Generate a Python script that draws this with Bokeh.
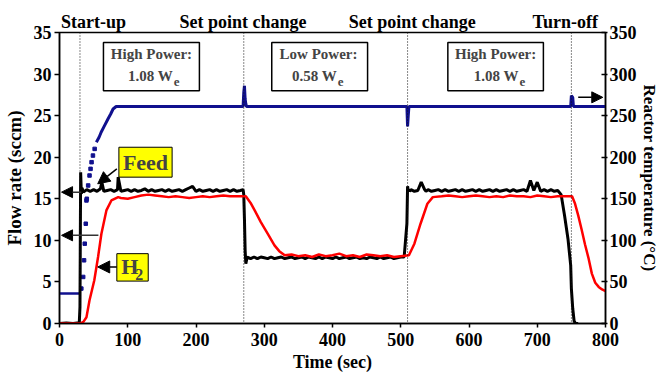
from bokeh.plotting import figure
from bokeh.models import Range1d, LinearAxis, Span, Label, BoxAnnotation, Arrow, NormalHead, FixedTicker
from bokeh.embed import file_html
from bokeh.resources import INLINE

# ---------------- data ----------------
x_ticks = [0, 100, 200, 300, 400, 500, 600, 700, 800]
flow_ticks = [0, 5, 10, 15, 20, 25, 30, 35]
temp_ticks = [0, 50, 100, 150, 200, 250, 300, 350]
event_times = [30, 270, 510, 750]
event_names = ["Start-up", "Set point change", "Set point change", "Turn-off"]
event_label_x = [50, 269, 517, 741]

# Reactor temperature (deg C), right axis
temp_start_t = [0, 31]
temp_start_c = [36, 36]
temp_rise_t = [32, 34.7, 36, 37, 38.5, 39.5, 40, 42, 44, 45.5, 47, 49, 51.5]
temp_rise_c = [42, 56, 76, 96, 120, 148, 150, 166, 178, 186, 194, 202, 210]
temp_plat_t = [54, 58, 61, 66, 71, 75, 78.5, 83, 269, 270, 271, 272, 273, 274, 509, 510, 511, 512,
               749, 750, 752, 753, 800]
temp_plat_c = [218, 224, 230, 238, 246, 252, 258, 261, 261, 278, 286, 270, 264, 261, 261, 237, 250, 261,
               261, 274, 272, 261, 261]

# Feed flow rate (sccm)
feed_t = [0, 10, 20, 29, 30, 31, 32, 33, 35, 40, 45, 50, 55, 60, 62, 65, 70, 75, 80, 85, 86, 90, 95,
          100, 105, 110, 115, 120, 125, 130, 135, 140, 145, 150, 155, 160, 165, 170, 175, 180, 185,
          190, 195, 200, 205, 210, 215, 220, 225, 230, 235, 240, 245, 250, 255, 260, 265, 269,
          270, 271, 272, 273, 275, 280, 285, 290, 295, 300, 305, 310, 315, 320, 325, 330, 335, 340,
          345, 350, 355, 360, 365, 370, 375, 380, 385, 390, 395, 400, 405, 410, 415, 420, 425, 430,
          435, 440, 445, 450, 455, 460, 465, 470, 475, 480, 485, 490, 495, 500, 505, 509,
          510, 511, 512, 513, 515, 520, 525, 530, 535, 537, 540, 545, 550, 555, 560, 565, 570, 575,
          580, 585, 590, 595, 600, 605, 610, 615, 620, 625, 630, 635, 640, 645, 650, 655, 660, 665,
          670, 675, 680, 685, 690, 695, 700, 705, 710, 715, 718, 720, 725, 730, 735, 740, 745, 749,
          750, 752, 754, 756, 758, 760, 762, 765, 780, 800]
feed_v = [0.0, 0.05, 0.0, 0.1, 2.0, 18.2, 15.6, 16.3, 15.8, 16.1, 15.9, 16.1, 15.9, 16.2, 17.0, 15.9,
          16.0, 16.1, 15.9, 16.1, 17.6, 15.9, 16.0,
          16.1, 15.9, 16.1, 15.9, 16.0, 16.2, 15.9, 16.1, 15.9, 16.0, 16.1, 15.9, 16.1, 15.9, 16.0,
          16.1, 15.9, 16.1, 16.3, 16.5, 15.9, 16.1, 15.9, 16.0, 16.1, 15.9, 16.1, 15.9, 16.0, 16.1,
          15.9, 16.1, 15.9, 16.0, 16.1,
          15.5, 12.5, 8.8, 7.2, 8.0, 7.8, 8.0, 7.8, 8.0, 7.9, 7.8, 8.0, 7.8, 7.9, 8.0, 7.8, 7.9, 8.0,
          7.8, 7.9, 8.0, 7.8, 8.0, 7.9, 7.8, 8.0, 7.8, 8.0, 7.9, 7.8, 8.0, 7.8, 7.9, 8.0, 7.8, 7.9,
          8.0, 7.8, 7.9, 7.8, 8.0, 7.9, 7.8, 8.0, 7.8, 7.9, 8.0, 7.8, 7.9, 8.0,
          8.0, 12.0, 16.5, 15.9, 16.1, 15.9, 16.1, 15.9, 16.0, 17.0, 16.1, 15.9, 16.1, 15.9, 16.0,
          16.1, 15.9, 16.1, 15.9, 16.0, 16.1, 15.9, 16.1, 15.9, 16.0, 16.1, 15.9, 16.1, 15.9, 16.0,
          16.1, 15.9, 16.1, 15.9, 16.0, 16.1, 15.9, 16.1, 15.9, 16.0, 16.1, 15.9, 17.2, 16.0, 17.0,
          15.9, 16.1, 15.9, 16.0, 16.1, 15.9, 16.0,
          15.5, 13.0, 10.2, 7.0, 4.2, 1.8, 0.3, 0.0, 0.0, 0.0]

# H2 flow rate (sccm)
h2_t = [0, 30, 35, 39.5, 44, 51, 56.5, 61.4, 68.7, 76, 86, 90, 100, 110, 120, 130, 140, 150, 160,
        170, 180, 190, 200, 210, 220, 230, 240, 250, 260, 273, 280, 286, 295, 305, 315, 322, 330,
        340, 350, 360, 370, 380, 390, 400, 410, 420, 430, 440, 450, 460, 470, 480, 490, 500, 512,
        520, 529, 539, 547, 560, 570, 580, 590, 600, 610, 620, 630, 640, 650, 660, 670, 680, 690,
        700, 710, 720, 730, 740, 751, 755, 760, 765, 770, 775, 780, 785, 790, 795, 800]
h2_v = [0.0, 0.0, 0.2, 0.75, 2.8, 5.2, 8.0, 10.8, 13.6, 14.8, 15.2, 15.1, 15.0, 15.2, 15.4, 15.5,
        15.4, 15.3, 15.2, 15.3, 15.2, 15.1, 15.2, 15.3, 15.2, 15.3, 15.4, 15.3, 15.3, 15.3, 14.5,
        13.6, 12.2, 10.8, 9.4, 8.7, 8.2, 8.3, 8.1, 8.2, 8.0, 8.3, 8.1, 8.2, 8.4, 8.1, 8.2, 8.0,
        8.3, 8.2, 8.1, 8.2, 8.0, 8.1, 8.2, 9.6, 12.0, 14.4, 15.2, 15.3, 15.4, 15.3, 15.2, 15.3,
        15.4, 15.3, 15.2, 15.3, 15.2, 15.4, 15.3, 15.3, 15.2, 15.4, 15.3, 15.2, 15.3, 15.3, 15.3,
        14.5, 13.0, 11.3, 9.5, 7.9, 6.0, 4.9, 4.4, 4.1, 3.9]

# ---------------- figure ----------------
FONT = "Liberation Serif"
BLUE = "#10108e"

p = figure(width=661, height=378, x_range=Range1d(0, 800), y_range=Range1d(0, 35),
           output_backend="svg", toolbar_location=None,
           min_border_left=58, min_border_right=56, min_border_top=32, min_border_bottom=55)
p.extra_y_ranges = {"temp": Range1d(0, 350)}
p.grid.visible = False
p.outline_line_color = "black"
p.outline_line_width = 1.5
p.background_fill_color = "white"
p.border_fill_color = "white"

def style_axis(ax, tin, tout):
    ax.axis_line_width = 1.5
    ax.major_tick_line_width = 1.5
    ax.major_tick_in = tin
    ax.major_tick_out = tout
    ax.minor_tick_line_color = None
    ax.major_label_text_font = FONT
    ax.major_label_text_font_style = "bold"
    ax.major_label_text_font_size = "18px"
    ax.major_label_text_color = "black"
    ax.axis_label_text_font = FONT
    ax.axis_label_text_font_style = "bold"
    ax.axis_label_text_font_size = "18px"
    ax.axis_label_text_color = "black"

p.xaxis.ticker = FixedTicker(ticks=x_ticks)
p.xaxis.axis_label = "Time (sec)"
style_axis(p.xaxis[0], 0, 4)
p.xaxis.major_label_standoff = 5
p.xaxis.axis_label_standoff = 3

p.yaxis.ticker = FixedTicker(ticks=flow_ticks)
p.yaxis.axis_label = "Flow rate (sccm)"
style_axis(p.yaxis[0], 0, 5)
p.yaxis.major_label_standoff = 3
p.yaxis.axis_label_standoff = 6
p.yaxis.axis_label_text_font_size = "19px"

rax = LinearAxis(y_range_name="temp", ticker=FixedTicker(ticks=temp_ticks),
                 axis_label="Reactor temperature (°C)")
style_axis(rax, 4, 2)
rax.major_label_standoff = 2
rax.axis_label_standoff = 0
rax.axis_label_text_font_size = "17px"
p.add_layout(rax, "right")

# event titles: an unlined axis above the frame
tax = LinearAxis(ticker=FixedTicker(ticks=event_label_x),
                 major_label_overrides={x: n for x, n in zip(event_label_x, event_names)})
style_axis(tax, 0, 0)
tax.axis_line_color = None
tax.major_tick_line_color = None
tax.major_label_standoff = 1
p.add_layout(tax, "above")

# event lines
for t in event_times:
    p.add_layout(Span(location=t, dimension="height", line_color="#111111",
                      line_dash="1 2", line_width=1))

# data
p.line(temp_start_t, temp_start_c, y_range_name="temp", line_color=BLUE, line_width=2.5)
p.scatter(temp_rise_t, temp_rise_c, y_range_name="temp", marker="square", size=3.5,
          fill_color=BLUE, line_color=BLUE)
p.line(temp_plat_t, temp_plat_c, y_range_name="temp", line_color=BLUE, line_width=3)
p.line(feed_t, feed_v, line_color="black", line_width=3)
p.line(h2_t, h2_v, line_color="#ff0000", line_width=2.5)

# power boxes
boxes = [(64.4, 205, "High Power:", "1.08 W", 134.7, 166.3),
         (311, 451.4, "Low Power:", "0.58 W", 379.5, 406.6),
         (569, 709, "High Power:", "1.08 W", 639, 673)]
for left, right, l1, l2, cx, wx in boxes:
    p.add_layout(BoxAnnotation(left=left, right=right, bottom=28.0, top=33.8,
                               fill_color="white", fill_alpha=1.0,
                               line_color="black", line_width=1.5, line_alpha=1.0))
    p.add_layout(Label(x=cx, y=32.4, text=l1, text_align="center", text_baseline="middle",
                       text_font=FONT, text_font_style="bold", text_font_size="15px"))
    p.add_layout(Label(x=wx, y=29.8, text=l2, text_align="right", text_baseline="middle",
                       text_font=FONT, text_font_style="bold", text_font_size="15px"))
    p.add_layout(Label(x=wx + 1, y=29.0, text="e", text_align="left", text_baseline="middle",
                       text_font=FONT, text_font_style="bold", text_font_size="13px"))

# yellow labels
p.add_layout(BoxAnnotation(left=87, right=165, bottom=17.6, top=21.2, fill_color="#ffff00",
                           fill_alpha=1.0, line_color="black", line_width=1, line_alpha=1.0))
p.add_layout(Label(x=126, y=19.4, text="Feed", text_align="center", text_baseline="middle",
                   text_font=FONT, text_font_style="bold", text_font_size="22px"))
p.add_layout(BoxAnnotation(left=84, right=130, bottom=5.1, top=8.4, fill_color="#ffff00",
                           fill_alpha=1.0, line_color="black", line_width=1, line_alpha=1.0))
p.add_layout(Label(x=103, y=6.9, text="H", text_align="center", text_baseline="middle",
                   text_font=FONT, text_font_style="bold", text_font_size="22px"))
p.add_layout(Label(x=111, y=5.9, text="2", text_align="left", text_baseline="middle",
                   text_font=FONT, text_font_style="bold", text_font_size="16px"))

def arrow(x0, y0, x1, y1, size=10, color="#333333"):
    a = Arrow(x_start=x0, y_start=y0, x_end=x1, y_end=y1, line_color=color, line_width=1.5,
              end=NormalHead(size=size, fill_color="black", line_color="black"))
    p.add_layout(a)

arrow(84, 18.6, 56, 16.8, size=12, color="black")
arrow(84, 6.8, 56, 6.8, size=12, color="black")
arrow(32, 15.8, 3, 15.8, size=11)
arrow(57, 10.6, 3, 10.6, size=11)
arrow(760, 27.2, 796, 27.2, size=11, color="black")

open("out.html", "w").write(file_html(p, INLINE))
